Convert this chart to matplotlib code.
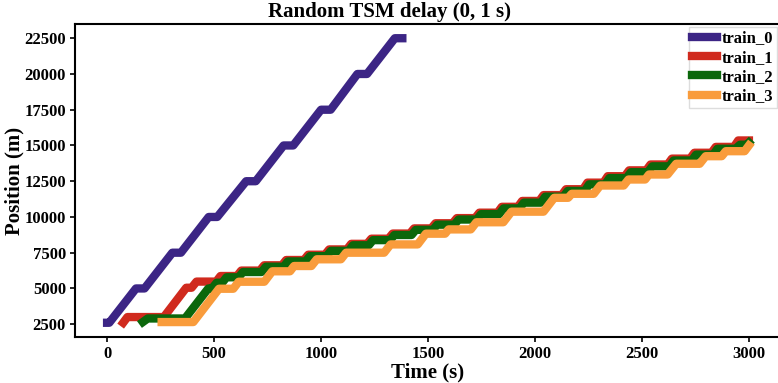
import matplotlib
matplotlib.use("Agg")
import matplotlib.pyplot as plt

# train_0
t0 = [0, 10, 135, 175, 305, 345, 475, 515, 650, 695, 825, 870, 1000, 1045, 1170, 1215, 1345, 1380]
p0 = [2600, 2600, 5000, 5000, 7500, 7500, 10000, 10000, 12500, 12500, 15000, 15000,
      17500, 17500, 20000, 20000, 22500, 22500]

# train_1
t1 = [75, 95, 265, 370, 395, 418, 510, 530, 607, 627, 714, 734, 817, 837, 920, 940,
      1018, 1038, 1121, 1141, 1215, 1235, 1315, 1335, 1415, 1435, 1515, 1535, 1615, 1635,
      1720, 1740, 1825, 1845, 1920, 1940, 2020, 2040, 2125, 2145, 2225, 2245, 2320, 2340,
      2420, 2440, 2520, 2540, 2620, 2640, 2725, 2745, 2825, 2845, 2930, 2950, 3000]
p1 = [2600, 3000, 3000, 5050, 5050, 5480, 5480, 5870, 5870, 6250, 6250, 6620, 6620, 6990,
      6990, 7360, 7360, 7730, 7730, 8120, 8120, 8480, 8480, 8840, 8840, 9200, 9200, 9560,
      9560, 9920, 9920, 10300, 10300, 10710, 10710, 11120, 11120, 11530, 11530, 11940,
      11940, 12400, 12400, 12850, 12850, 13260, 13260, 13670, 13670, 14080, 14080, 14490,
      14490, 14900, 14900, 15350, 15350]

# train_2
t2 = [167, 190, 364, 473, 490, 512, 538, 558, 615, 635, 722, 742, 825, 845, 928, 948,
      1026, 1046, 1129, 1149, 1223, 1243, 1323, 1343, 1423, 1443, 1523, 1543, 1623, 1643,
      1728, 1748, 1833, 1853, 1928, 1948, 2028, 2048, 2133, 2153, 2233, 2253, 2328, 2348,
      2428, 2448, 2528, 2548, 2628, 2648, 2733, 2753, 2833, 2853, 2938, 2958, 2990, 3000]
p2 = [2650, 2900, 2900, 5000, 5000, 5400, 5400, 5780, 5780, 6150, 6150, 6520, 6520, 6890,
      6890, 7260, 7260, 7630, 7630, 8020, 8020, 8380, 8380, 8740, 8740, 9100, 9100, 9460,
      9460, 9820, 9820, 10200, 10200, 10600, 10600, 11000, 11000, 11420, 11420, 11820,
      11820, 12280, 12280, 12720, 12720, 13130, 13130, 13540, 13540, 13950, 13950, 14360,
      14360, 14770, 14770, 15050, 15050, 15200]

# train_3
t3 = [255, 403, 523, 590, 615, 735, 772, 855, 874, 955, 980, 1093, 1117, 1295, 1325,
      1452, 1490, 1580, 1596, 1700, 1726, 1852, 1890, 2040, 2090, 2155, 2172, 2275, 2305,
      2415, 2437, 2515, 2533, 2620, 2660, 2770, 2798, 2873, 2892, 2980, 3000]
p3 = [2650, 2650, 4980, 4980, 5470, 5470, 6200, 6200, 6570, 6570, 7040, 7040, 7500, 7500,
      8080, 8080, 8830, 8830, 9130, 9130, 9630, 9630, 10370, 10370, 11340, 11340, 11620,
      11620, 12200, 12200, 12620, 12620, 12970, 12970, 13720, 13720, 14250, 14250, 14600,
      14600, 15000]

labels = ["train_0", "train_1", "train_2", "train_3"]
colors = ["#3c2585", "#d02a1e", "#0b670b", "#f99c3c"]

plt.rcParams["font.family"] = ["Liberation Serif", "DejaVu Serif"]
plt.rcParams["font.weight"] = "bold"
plt.rcParams["axes.labelweight"] = "bold"

W, H = 778, 383
fig = plt.figure(figsize=(W / 100, H / 100), dpi=100)
ax = fig.add_axes([75 / W, (H - 337) / H, (781 - 75) / W, (337 - 24) / H])

for t, p, lab, c in zip([t0, t1, t2, t3], [p0, p1, p2, p3], labels, colors):
    ax.plot(t, p, color=c, lw=6, label=lab)

ax.set_xticks([0, 500, 1000, 1500, 2000, 2500, 3000])
ax.set_yticks([2500, 5000, 7500, 10000, 12500, 15000, 17500, 20000, 22500])
ax.tick_params(labelsize=12, length=3.5, width=1.2, pad=3)
for s in ax.spines.values():
    s.set_linewidth(1.5)

ax.set_xlabel("Time (s)", fontsize=15, labelpad=0)
ax.set_ylabel("Position (m)", fontsize=15, labelpad=0)
# titulo centrado en la figura, no en los ejes
fig.suptitle("Random TSM delay (0, 1 s)", fontsize=15, fontweight="bold",
             x=0.5, y=1 - 12 / H, va="center")

ax.legend(loc="upper right", bbox_to_anchor=(777 / W, 1 - 27 / H),
          bbox_transform=fig.transFigure, borderaxespad=0, fontsize=12,
          handlelength=1.5, handletextpad=0.3, borderpad=0.2, labelspacing=0.2,
          fancybox=False, edgecolor="#dddddd", framealpha=1)

fig.savefig("out.png", dpi=100)
